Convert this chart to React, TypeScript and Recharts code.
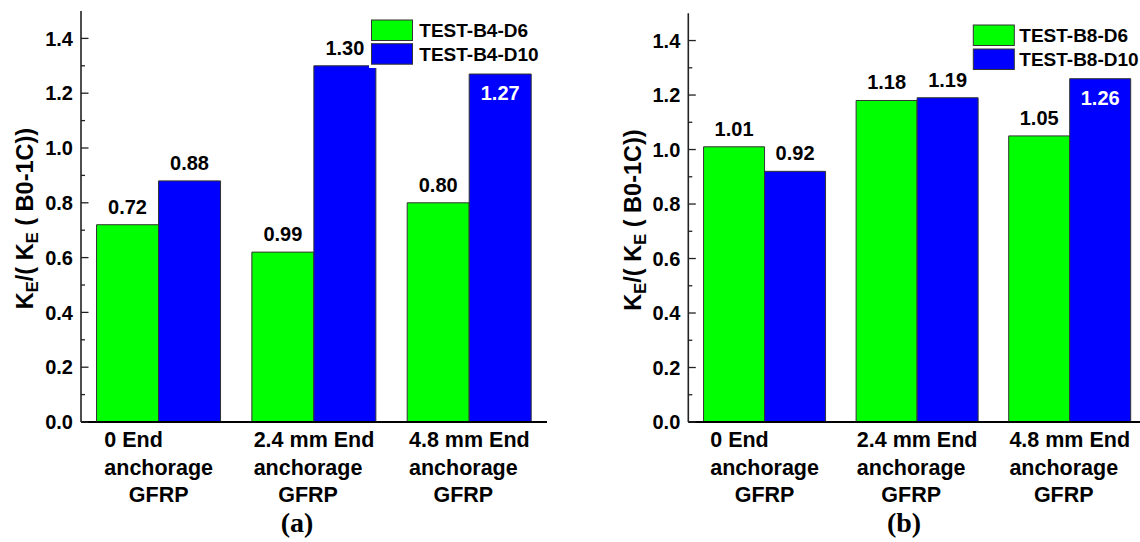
import React from "react";
import { BarChart, Bar, XAxis, YAxis, Legend, LabelList } from "recharts";

const FONT = '"Liberation Sans", Arial, Helvetica, sans-serif';
const SERIF = '"Liberation Serif", "Times New Roman", serif';

// ---------- data ----------
const categories = ["0 End\nanchorage\nGFRP", "2.4 mm End\nanchorage\nGFRP", "4.8 mm End\nanchorage\nGFRP"];

const b4D6 = [0.72, 0.62, 0.8];
const b4D6Labels = ["0.72", "0.99", "0.80"];
const b4D10 = [0.88, 1.3, 1.27];
const b4D10Labels = ["0.88", "1.30", "1.27"];

const b8D6 = [1.01, 1.18, 1.05];
const b8D6Labels = ["1.01", "1.18", "1.05"];
const b8D10 = [0.92, 1.19, 1.26];
const b8D10Labels = ["0.92", "1.19", "1.26"];

const yTicks = [0, 0.1, 0.2, 0.3, 0.4, 0.5, 0.6, 0.7, 0.8, 0.9, 1.0, 1.1, 1.2, 1.3, 1.4];
const yMajor = [0, 0.2, 0.4, 0.6, 0.8, 1.0, 1.2, 1.4];

const seriesNamesA = ["TEST-B4-D6", "TEST-B4-D10"];
const seriesNamesB = ["TEST-B8-D6", "TEST-B8-D10"];

const rowsA = categories.map((cat, i) => ({
  cat,
  d6: b4D6[i],
  d10: b4D10[i],
  d6Label: b4D6Labels[i],
  d10Label: b4D10Labels[i],
}));
const rowsB = categories.map((cat, i) => ({
  cat,
  d6: b8D6[i],
  d10: b8D10[i],
  d6Label: b8D6Labels[i],
  d10Label: b8D10Labels[i],
}));

// ---------- helpers ----------
let ctx: CanvasRenderingContext2D | null = null;
function measure(text: string, font: string): number {
  if (!ctx) {
    const c = document.createElement("canvas");
    ctx = c.getContext("2d");
  }
  if (!ctx) return text.length * 11;
  ctx.font = font;
  return ctx.measureText(text).width;
}

const XFS = 21.5;
const XTick = (props: any) => {
  const { x, y, payload } = props;
  const lines: string[] = String(payload.value).split("\n");
  const font = `bold ${XFS}px "Liberation Sans", Arial`;
  const w1 = measure(lines[0], font);
  const w2 = measure(lines[1], font);
  const block = Math.max(w1, w2);
  const sx = Number(x) - block / 2;
  const yy = Number(y);
  const common = { fontSize: XFS, fontWeight: "bold" as const, fontFamily: FONT, fill: "#000" };
  return (
    <g>
      <text x={sx} y={yy + 25} textAnchor="start" {...common}>{lines[0]}</text>
      <text x={sx} y={yy + 52.5} textAnchor="start" {...common}>{lines[1]}</text>
      <text x={sx + w2 / 2} y={yy + 79.5} textAnchor="middle" {...common}>{lines[2]}</text>
    </g>
  );
};

const YTick = (props: any) => {
  const { x, y, payload } = props;
  const v = Number(payload.value);
  const major = yMajor.some((m) => Math.abs(m - v) < 1e-6);
  const xx = Number(x);
  const yy = Number(y);
  return (
    <g>
      <line x1={xx} x2={xx + (major ? 7.5 : 4)} y1={yy} y2={yy} stroke="#222" strokeWidth={1.3} />
      {major && (
        <text x={xx - 8} y={yy} dy="0.355em" textAnchor="end" fontSize={20} fontWeight="bold" fontFamily={FONT} fill="#000">
          {v.toFixed(1)}
        </text>
      )}
    </g>
  );
};

const makeLabel = (insideIdx: number) => (props: any) => {
  const { x, y, width, value, index } = props;
  const inside = index === insideIdx;
  const cx = Number(x) + Number(width) / 2;
  const yy = Number(y);
  return (
    <text
      x={cx}
      y={inside ? yy + 26 : yy - 11}
      textAnchor="middle"
      fontSize={20}
      fontWeight="bold"
      fontFamily={FONT}
      fill={inside ? "#fff" : "#000"}
    >
      {value}
    </text>
  );
};

const makeLegend = (
  names: string[],
  w: number,
  h: number,
  boxX: number,
  boxY0: number,
  boxY1: number,
  textX: number
) => (props: any) => {
  const payload = [...(props.payload || [])].sort(
    (a: any, b: any) => names.indexOf(a.value) - names.indexOf(b.value)
  );
  const ys = [boxY0, boxY1];
  return (
    <svg width={w} height={h} style={{ display: "block", background: "#fff" }}>
      {payload.map((p: any, i: number) => (
        <g key={i}>
          <rect x={boxX} y={ys[i]} width={41} height={20.5} fill={p.color} stroke="#333" strokeWidth={1} />
          <text x={textX} y={ys[i] + 10.25} dy="0.355em" fontSize={19} fontWeight="bold" fontFamily={FONT} fill="#000">
            {p.value}
          </text>
        </g>
      ))}
    </svg>
  );
};

const YLabelText = ({ bx, cy }: { bx: number; cy: number }) => (
  <text
    transform={`translate(${bx}, ${cy}) rotate(-90)`}
    textAnchor="middle"
    fontSize={23.5}
    fontWeight="bold"
    fontFamily={FONT}
    fill="#000"
    style={{ whiteSpace: "pre" }}
  >
    K
    <tspan fontSize={16.5} dy={5}>E</tspan>
    <tspan dy={-5}>/( K</tspan>
    <tspan fontSize={16.5} dy={5}>E</tspan>
    <tspan dy={-5}> ( B0-1C))</tspan>
  </text>
);

type PanelProps = {
  rows: any[];
  names: string[];
  width: number;
  margin: { top: number; right: number; left: number; bottom: number };
  yAxisWidth: number;
  legend: { left: number; top: number; w: number; h: number; boxX: number; boxY0: number; boxY1: number; textX: number };
};

const Panel = ({ rows, names, width, margin, yAxisWidth, legend }: PanelProps) => (
  <BarChart
    width={width}
    height={542}
    data={rows}
    margin={margin}
    barCategoryGap="10%"
    barGap={0}
  >
    <XAxis
      dataKey="cat"
      height={120}
      interval={0}
      tickLine={false}
      tickSize={0}
      tickMargin={0}
      tick={<XTick />}
      axisLine={{ stroke: "#000", strokeWidth: 2 }}
    />
    <XAxis
      xAxisId="top"
      dataKey="cat"
      orientation="top"
      height={0}
      tick={false}
      tickLine={false}
      axisLine={{ stroke: "#222", strokeWidth: 1.5 }}
    />
    <YAxis
      width={yAxisWidth}
      domain={[0, 1.5]}
      ticks={yTicks}
      interval={0}
      tickLine={false}
      tickSize={0}
      tickMargin={0}
      tick={<YTick />}
      axisLine={{ stroke: "#222", strokeWidth: 1.6 }}
    />
    <YAxis
      yAxisId="right"
      orientation="right"
      width={0}
      domain={[0, 1.5]}
      tick={false}
      tickLine={false}
      axisLine={{ stroke: "#444", strokeWidth: 1.5 }}
    />
    <Legend
      layout="horizontal"
      verticalAlign="middle"
      align="center"
      itemSorter={null as any}
      wrapperStyle={{ position: "absolute", left: legend.left, top: legend.top, width: legend.w, height: legend.h, margin: 0, padding: 0 }}
      content={makeLegend(names, legend.w, legend.h, legend.boxX, legend.boxY0, legend.boxY1, legend.textX)}
    />
    <Bar dataKey="d6" name={names[0]} fill="#00FF00" stroke="#333" strokeWidth={1} isAnimationActive={false}>
      <LabelList dataKey="d6Label" content={makeLabel(-1)} />
    </Bar>
    <Bar dataKey="d10" name={names[1]} fill="#0000FF" stroke="#333" strokeWidth={1} isAnimationActive={false}>
      <LabelList dataKey="d10Label" content={makeLabel(2)} />
    </Bar>
  </BarChart>
);

export default function App() {
  return (
    <div
      style={{
        position: "absolute",
        left: 0,
        top: 0,
        width: 1140,
        height: 542,
        overflow: "hidden",
        background: "#fff",
      }}
    >
      <div style={{ position: "absolute", left: 0, top: 0, width: 570, height: 542 }}>
        <Panel
          rows={rowsA}
          names={seriesNamesA}
          width={570}
          margin={{ top: 11, right: 23, left: 0, bottom: 0 }}
          yAxisWidth={81}
          legend={{ left: 369, top: 12, w: 176, h: 56, boxX: 2.5, boxY0: 8, boxY1: 31.7, textX: 50.3 }}
        />
      </div>
      <div style={{ position: "absolute", left: 570, top: 0, width: 600, height: 542 }}>
        <Panel
          rows={rowsB}
          names={seriesNamesB}
          width={600}
          margin={{ top: 13.3, right: 24, left: 0, bottom: 0 }}
          yAxisWidth={118.3}
          legend={{ left: 400, top: 16, w: 200, h: 58, boxX: 3.3, boxY0: 9, boxY1: 33, textX: 49.3 }}
        />
      </div>
      <svg
        width={1140}
        height={542}
        style={{ position: "absolute", left: 0, top: 0, pointerEvents: "none" }}
      >
        <YLabelText bx={33} cy={218.5} />
        <YLabelText bx={641} cy={220} />
        <text x={297} y={532} textAnchor="middle" fontSize={28} fontWeight="bold" fontFamily={SERIF} fill="#000">(a)</text>
        <text x={904} y={532} textAnchor="middle" fontSize={28} fontWeight="bold" fontFamily={SERIF} fill="#000">(b)</text>
      </svg>
    </div>
  );
}
